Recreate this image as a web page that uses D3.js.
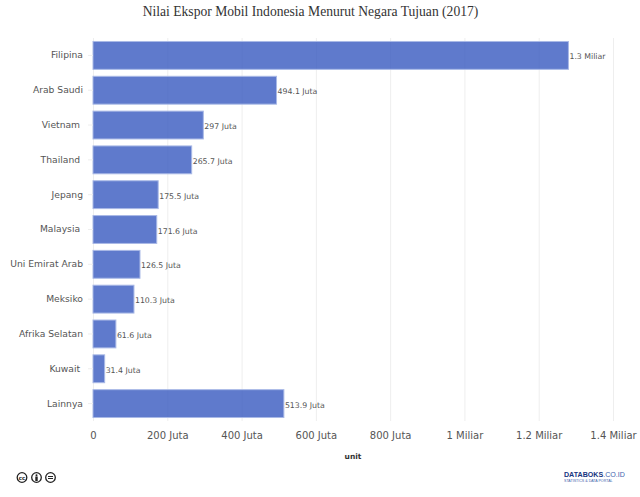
<!DOCTYPE html>
<html>
<head>
  <meta charset="utf-8">
  <title>Nilai Ekspor Mobil Indonesia</title>
  <script src="https://d3js.org/d3.v7.min.js"></script>
  <style>
    html, body { margin: 0; padding: 0; background: #fff; }
    svg { display: block; }
    text { white-space: pre; }
    .cat-label { font-family: "DejaVu Sans", sans-serif; font-size: 9.2px; fill: #555; }
    .tick-label { font-family: "DejaVu Sans", sans-serif; font-size: 10px; fill: #555; }
    .value-label { font-family: "DejaVu Sans", sans-serif; font-size: 7.8px; fill: #555; }
    .gridlines line { stroke: #eee; }
    .gridlines .domain { stroke: none; }
  </style>
</head>
<body>
  <svg id="chart" width="640" height="497"></svg>
  <script>
    // trailing spaces are in the source labels, they push those names a bit left
    const categories = ["Filipina", "Arab Saudi", "Vietnam ", "Thailand ", "Jepang", "Malaysia ", "Uni Emirat Arab", "Meksiko", "Afrika Selatan", "Kuwait ", "Lainnya"];
    const values = [1280, 494.1, 297, 265.7, 175.5, 171.6, 126.5, 110.3, 61.6, 31.4, 513.9];
    const valueLabels = ["1.3 Miliar", "494.1 Juta", "297 Juta", "265.7 Juta", "175.5 Juta", "171.6 Juta", "126.5 Juta", "110.3 Juta", "61.6 Juta", "31.4 Juta", "513.9 Juta"];
    const xTicks = [0, 200, 400, 600, 800, 1000, 1200, 1400];
    const xTickLabels = ["0", "200 Juta", "400 Juta", "600 Juta", "800 Juta", "1 Miliar", "1.2 Miliar", "1.4 Miliar"];

    const svg = d3.select("#chart");
    const margin = {top: 38, right: 27, bottom: 76, left: 93};
    const chartWidth = 640 - margin.left - margin.right;
    const chartHeight = 497 - margin.top - margin.bottom;

    const xScale = d3.scaleLinear().domain([0, 1400]).range([0, chartWidth]);
    const yScale = d3.scaleBand().domain(d3.range(categories.length)).range([0, chartHeight])
      .paddingInner(0.2).paddingOuter(0.1);

    const chart = svg.append("g").attr("transform", `translate(${margin.left},${margin.top})`);

    // gridlines sit under the bars, bars are slightly see through
    chart.append("g").attr("class", "gridlines")
      .attr("transform", `translate(0,${chartHeight})`)
      .call(d3.axisBottom(xScale).tickValues(xTicks).tickFormat("").tickSize(chartHeight).tickSizeOuter(0))
      .selectAll("line").attr("transform", `translate(0,${-chartHeight})`);

    chart.selectAll("rect.bar")
      .data(values)
      .join("rect")
      .attr("class", "bar")
      .attr("x", 0)
      .attr("y", (d, i) => yScale(i))
      .attr("width", d => xScale(d))
      .attr("height", yScale.bandwidth())
      .attr("fill", "rgba(50,85,190,0.78)")
      .attr("stroke", "#a9b9e6")
      .attr("stroke-width", 1);

    chart.selectAll("text.value-label")
      .data(values)
      .join("text")
      .attr("class", "value-label")
      .attr("x", d => xScale(d) + 1)
      .attr("y", (d, i) => yScale(i) + yScale.bandwidth() / 2 + 4)
      .text((d, i) => valueLabels[i]);

    // left axis
    const leftAxis = d3.axisLeft(yScale).tickSize(5).tickPadding(5).tickFormat(i => categories[i]);
    const leftG = chart.append("g").call(leftAxis);
    leftG.select(".domain").remove();
    leftG.selectAll("line").attr("stroke", "#eee");
    leftG.selectAll("text").attr("class", "cat-label").attr("fill", null);
    leftG.attr("font-size", null).attr("font-family", null);

    // bottom axis
    const bottomAxis = d3.axisBottom(xScale).tickValues(xTicks).tickSize(0).tickPadding(11)
      .tickFormat((d, i) => xTickLabels[i]);
    const bottomG = chart.append("g").attr("transform", `translate(0,${chartHeight})`).call(bottomAxis);
    bottomG.select(".domain").remove();
    bottomG.selectAll("text").attr("class", "tick-label").attr("fill", null);
    bottomG.attr("font-size", null).attr("font-family", null);

    // title and axis title
    svg.append("text").attr("x", 310.5).attr("y", 16).attr("text-anchor", "middle")
      .attr("font-family", "'Liberation Serif', serif").attr("font-size", 13.6).attr("fill", "#333")
      .text("Nilai Ekspor Mobil Indonesia Menurut Negara Tujuan (2017)");
    svg.append("text").attr("x", 353).attr("y", 459).attr("text-anchor", "middle")
      .attr("font-family", "'DejaVu Sans', sans-serif").attr("font-size", 7.5).attr("font-weight", "bold").attr("fill", "#333")
      .text("unit");

    // cc badges
    const badges = svg.append("g").attr("fill", "none").attr("stroke", "#222");
    [["22", "cc"], ["36.5", "i"], ["50.5", "="]].forEach(b => {
      const g = badges.append("g").attr("transform", `translate(${b[0]},477.5)`);
      g.append("circle").attr("r", 4.8).attr("stroke-width", 1.3);
      if (b[1] === "cc") {
        g.append("text").attr("text-anchor", "middle").attr("y", 2).attr("font-size", 5.5).attr("font-weight", "bold")
          .attr("font-family", "'DejaVu Sans', sans-serif").attr("fill", "#222").attr("stroke", "none").text("cc");
      } else if (b[1] === "i") {
        g.append("circle").attr("cy", -2.3).attr("r", 1).attr("fill", "#222").attr("stroke", "none");
        g.append("rect").attr("x", -1.2).attr("y", -1).attr("width", 2.4).attr("height", 4.5).attr("fill", "#222").attr("stroke", "none");
      } else {
        g.append("rect").attr("x", -2.5).attr("y", -1.5).attr("width", 5).attr("height", 1).attr("fill", "#222").attr("stroke", "none");
        g.append("rect").attr("x", -2.5).attr("y", 0.5).attr("width", 5).attr("height", 1).attr("fill", "#222").attr("stroke", "none");
      }
    });

    // logo
    const logo = svg.append("text").attr("x", 564).attr("y", 477).attr("font-family", "'Liberation Sans', sans-serif").attr("font-size", 7.1);
    logo.append("tspan").attr("font-weight", "bold").attr("fill", "#17347f").text("DATABOKS");
    logo.append("tspan").attr("fill", "#3f62ad").text(".CO.ID");
    svg.append("text").attr("x", 564).attr("y", 481.5).attr("font-family", "'Liberation Sans', sans-serif").attr("font-size", 3.6).attr("fill", "#3f62ad")
      .text("STATISTICS & DATA PORTAL");
  </script>
</body>
</html>
